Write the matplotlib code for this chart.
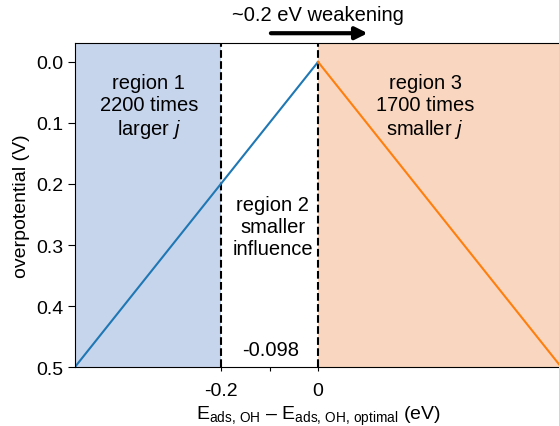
import matplotlib as mpl
mpl.use("Agg")
import matplotlib.pyplot as plt

mpl.rcParams.update({
    "font.family": ["Liberation Sans", "DejaVu Sans"],
    "font.size": 14,
    "mathtext.fontset": "custom",
    "mathtext.rm": "Liberation Sans",
    "mathtext.it": "Liberation Sans:italic",
    "mathtext.default": "regular",
    "axes.unicode_minus": False,
})

# volcano branches: binding energy offset (eV) vs overpotential (V)
x_strong = [-0.5, 0.0]
eta_strong = [0.5, 0.0]
x_weak = [0.0, 0.5]
eta_weak = [0.0, 0.5]

region_edges = [-0.5, -0.2, 0.0, 0.5]
peak_x = -0.098
xtick_vals = [-0.2, -0.098, 0.0]
xtick_labels = ['-0.2', '', '0']
ytick_vals = [0.0, 0.1, 0.2, 0.3, 0.4, 0.5]

fig = plt.figure(figsize=[5.59, 4.27], dpi=100)
ax = fig.add_axes([0.134, 0.138, 0.870, 0.759])

ax.axvspan(region_edges[0], region_edges[1], color='#c7d5ec', lw=0)
ax.axvspan(region_edges[2], region_edges[3], color='#f9d6bf', lw=0)
ax.axvline(region_edges[1], color='k', ls='--', lw=1.5)
ax.axvline(region_edges[2], color='k', ls='--', lw=1.5)

ax.plot(x_strong, eta_strong, color='tab:blue', lw=1.5)
ax.plot(x_weak, eta_weak, color='tab:orange', lw=1.5)

ax.set_xlim(-0.5, 0.5)
ax.set_ylim(0.5, -0.031)
ax.set_xticks(xtick_vals, xtick_labels)
ax.set_yticks(ytick_vals, ['%.1f' % v for v in ytick_vals])
ax.tick_params(axis='x', length=3, pad=8)
ax.tick_params(axis='y', length=5)
ax.spines['right'].set_visible(False)

fs = 14.5
ax.text(-0.348, 0.073, 'region 1\n2200 times\nlarger $\\mathit{j}$',
        ha='center', va='center', fontsize=fs)
ax.text(-0.093, 0.27, 'region 2\nsmaller\ninfluence',
        ha='center', va='center', fontsize=fs)
ax.text(0.22, 0.073, 'region 3\n1700 times\nsmaller $\\mathit{j}$',
        ha='center', va='center', fontsize=fs)
ax.text(peak_x, 0.471, '%.3f' % peak_x, ha='center', va='center', fontsize=fs)

ax.annotate('', xy=(0.102, -0.047), xytext=(-0.097, -0.047),
            arrowprops=dict(arrowstyle='-|>', lw=3, color='k', mutation_scale=18,
                            shrinkA=0, shrinkB=0),
            annotation_clip=False)
ax.text(0.0, -0.078, '~0.2 eV weakening', ha='center', va='center',
        clip_on=False, fontsize=fs)

ax.set_xlabel(r'E$_{ads,\,OH}$ – E$_{ads,\,OH,\,optimal}$ (eV)', labelpad=3)
ax.set_ylabel('overpotential (V)', labelpad=4)

fig.savefig('out.png', dpi=100)
